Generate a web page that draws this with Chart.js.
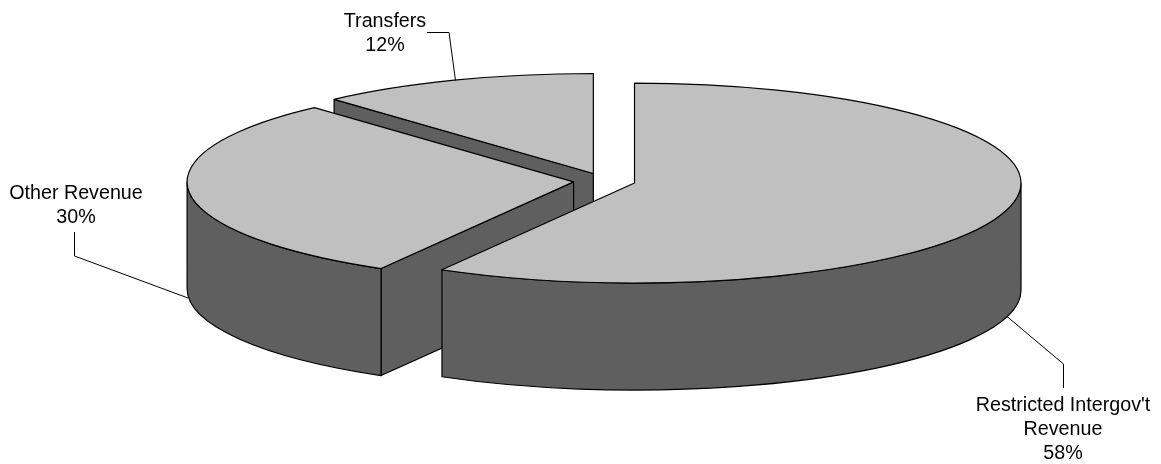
<!DOCTYPE html>
<html>
<head>
<meta charset="utf-8">
<style>
html,body{margin:0;padding:0;background:#fff;}
#wrap{position:absolute;left:0;top:0;width:1161px;height:464px;}
</style>
<script src="https://cdn.jsdelivr.net/npm/chart.js@4"></script>
</head>
<body>
<div id="wrap"><canvas id="c" width="1161" height="464"></canvas></div>
<script>
const categories = ["Restricted Intergov't Revenue", "Other Revenue", "Transfers"];
const values = [58.3, 30, 11.7];
const percentLabels = ["58%", "30%", "12%"];
const nameLines = [["Restricted Intergov't", "Revenue"], ["Other Revenue"], ["Transfers"]];

const TOP_COLOR = '#C0C0C0', SIDE_COLOR = '#5F5F5F';
const RX = 386.5, RY = 100, DEPTH = 107;
const labelAnchors = [
  {x: 1063, y: 411},
  {x: 76, y: 199},
  {x: 385, y: 27}
];
const leaders = [
  [[1007, 316.5], [1063.5, 364], [1063.5, 388]],
  [[188, 298], [74.5, 256], [74.5, 232]],
  [[427, 32.5], [449, 32.5], [455.5, 80.5]]
];

const pie3d = {
  id: 'pie3d',
  beforeDatasetDraw(chart) {
    const ctx = chart.ctx;
    const arcs = chart.getDatasetMeta(0).data;
    const order = [2, 1, 0];
    ctx.save();
    ctx.lineWidth = 1.2;
    ctx.lineJoin = 'round';
    ctx.strokeStyle = '#000';
    order.forEach(i => {
      const arc = arcs[i];
      const p = arc.getProps(['x', 'y', 'startAngle', 'endAngle', 'outerRadius'], true);
      const sx = RX / p.outerRadius, sy = RY / p.outerRadius;
      const mid = (p.startAngle + p.endAngle) / 2;
      const off = (arc.options.offset || 0) / 4;
      const cx = p.x + Math.cos(mid) * off * sx;
      const cy = p.y + Math.sin(mid) * off * sy;
      const a0 = p.startAngle, a1 = p.endAngle;
      const pt = a => [cx + RX * Math.cos(a), cy + RY * Math.sin(a)];
      const face = a => {
        const q = pt(a);
        ctx.beginPath();
        ctx.moveTo(cx, cy);
        ctx.lineTo(q[0], q[1]);
        ctx.lineTo(q[0], q[1] + DEPTH);
        ctx.lineTo(cx, cy + DEPTH);
        ctx.closePath();
        ctx.fillStyle = SIDE_COLOR;
        ctx.fill();
        ctx.stroke();
      };
      if (Math.cos(a0) < -1e-6) face(a0);
      if (Math.cos(a1) > 1e-6) face(a1);
      const s = Math.max(a0, 0), e = Math.min(a1, Math.PI);
      if (e > s) {
        ctx.beginPath();
        ctx.ellipse(cx, cy, RX, RY, 0, s, e, false);
        ctx.ellipse(cx, cy + DEPTH, RX, RY, 0, e, s, true);
        ctx.closePath();
        ctx.fillStyle = SIDE_COLOR;
        ctx.fill();
        ctx.stroke();
      }
      ctx.beginPath();
      ctx.moveTo(cx, cy);
      ctx.ellipse(cx, cy, RX, RY, 0, a0, a1, false);
      ctx.closePath();
      ctx.fillStyle = TOP_COLOR;
      ctx.fill();
      ctx.stroke();
    });
    ctx.restore();
    return false;
  },
  afterDatasetsDraw(chart) {
    const ctx = chart.ctx;
    ctx.save();
    ctx.strokeStyle = '#000';
    ctx.lineWidth = 1;
    leaders.forEach(l => {
      ctx.beginPath();
      l.forEach((q, k) => k ? ctx.lineTo(q[0], q[1]) : ctx.moveTo(q[0], q[1]));
      ctx.stroke();
    });
    ctx.fillStyle = '#000';
    ctx.font = '19.7px "Liberation Sans", Arial, sans-serif';
    ctx.textAlign = 'center';
    ctx.textBaseline = 'alphabetic';
    categories.forEach((_, i) => {
      const lines = nameLines[i].concat(percentLabels[i]);
      lines.forEach((t, k) => ctx.fillText(t, labelAnchors[i].x, labelAnchors[i].y + k * 24));
    });
    ctx.restore();
  }
};

new Chart(document.getElementById('c'), {
  type: 'pie',
  data: {
    labels: categories,
    datasets: [{
      data: values,
      backgroundColor: TOP_COLOR,
      borderColor: '#000',
      borderWidth: 1,
      offset: 50
    }]
  },
  options: {
    responsive: false,
    animation: false,
    rotation: 0,
    layout: {padding: {left: 48, right: 0, top: 0, bottom: 102}},
    plugins: {legend: {display: false}, tooltip: {enabled: false}, title: {display: false}}
  },
  plugins: [pie3d]
});
</script>
</body>
</html>
